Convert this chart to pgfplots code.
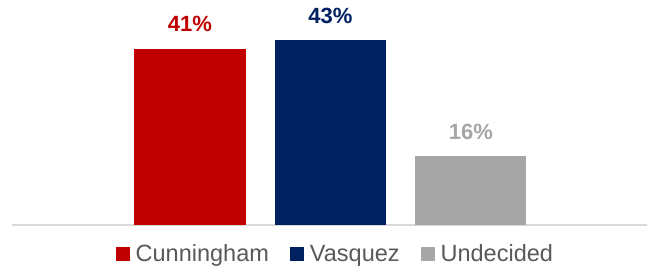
\documentclass[border=0pt]{standalone}
\usepackage{pgfplots}
\pgfplotsset{compat=1.18}
\usepackage{fontspec}
\setmainfont{Liberation Sans}
\definecolor{cred}{HTML}{C00000}
\definecolor{cnavy}{HTML}{002060}
\definecolor{cgray}{HTML}{A6A6A6}
\definecolor{ctext}{HTML}{595959}
\definecolor{cline}{HTML}{D9D9D9}
\begin{document}
\begin{tikzpicture}
\begin{axis}[
  scale only axis,
  width=635pt, height=225pt,
  xmin=-0.267, xmax=4.253,
  ymin=0, ymax=52.3,
  axis y line=none,
  axis x line*=bottom,
  x axis line style={cline, line width=1.5pt, -},
  xtick=\empty,
  ybar, bar width=111pt, bar shift=0pt,
  clip=false,
  /pgf/number format/assume math mode=true,
  nodes near coords={\pgfmathprintnumber{\pgfplotspointmeta}\%},
  every node near coord/.append style={anchor=base, yshift=17pt, font=\fontsize{22}{26}\selectfont\bfseries},
  legend columns=-1,
  legend style={draw=none, at={(0.51,0)}, anchor=center, yshift=-29pt,
    font=\fontsize{23.5}{27}\selectfont, text=ctext,
    /tikz/every even column/.append style={column sep=18pt},
    /tikz/every odd column/.append style={column sep=3pt},
    nodes={inner sep=3pt}},
  legend image code/.code={\fill[#1,draw=none] (0pt,-7pt) rectangle (14pt,7pt);},
]
\addplot[fill=cred, draw=none, every node near coord/.append style={text=cred}] coordinates {(1,41)};
\addplot[fill=cnavy, draw=none, every node near coord/.append style={text=cnavy}] coordinates {(2,43)};
\addplot[fill=cgray, draw=none, every node near coord/.append style={text=cgray}] coordinates {(3,16)};
\legend{Cunningham, Vasquez, Undecided}
\path (rel axis cs:0,0) ++(-12pt,-45pt) coordinate (bl);
\path (rel axis cs:1,1) ++(5pt,0pt) coordinate (tr);
\useasboundingbox (bl) rectangle (tr);
\end{axis}
\end{tikzpicture}
\end{document}
